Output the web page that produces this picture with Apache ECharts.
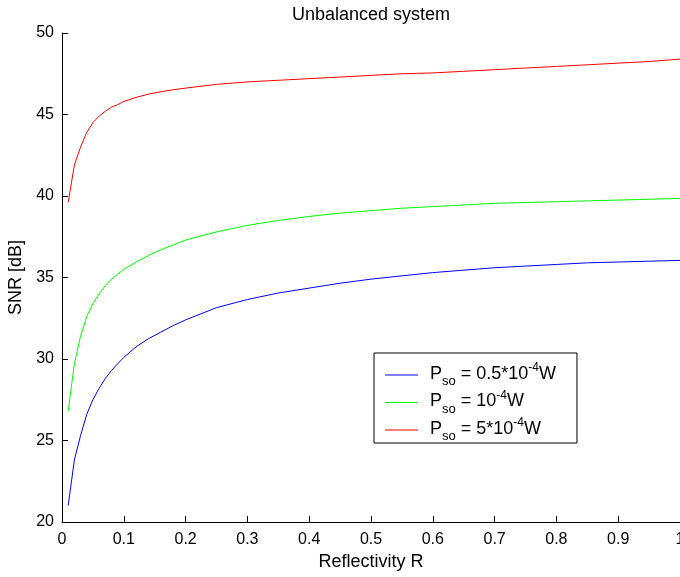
<!DOCTYPE html>
<html>
<head>
<meta charset="utf-8">
<script src="https://cdn.jsdelivr.net/npm/echarts@6/dist/echarts.min.js"></script>
<style>
html, body { margin: 0; padding: 0; background: #fff; }
#chart_container { width: 680px; height: 577px; }
</style>
</head>
<body>
<div id="chart_container"></div>
<script>
// reflectivity samples (x)
const reflectivity = [0.01, 0.02, 0.03, 0.04, 0.05, 0.06, 0.07, 0.08, 0.09, 0.10,
	0.12, 0.14, 0.16, 0.18, 0.20, 0.25, 0.30, 0.35, 0.40, 0.45, 0.50,
	0.55, 0.60, 0.65, 0.70, 0.75, 0.80, 0.85, 0.90, 0.95, 1.00]

// SNR [dB] per Pso
const snrLow = [21.0, 23.8, 25.3, 26.6, 27.5, 28.2, 28.8, 29.3, 29.7, 30.1,
	30.75, 31.25, 31.65, 32.05, 32.4, 33.15, 33.65, 34.05, 34.35, 34.65, 34.9,
	35.1, 35.3, 35.45, 35.6, 35.7, 35.8, 35.9, 35.95, 36.0, 36.05]
const snrMid = [26.8, 29.7, 31.4, 32.6, 33.4, 34.0, 34.5, 34.9, 35.2, 35.5,
	35.95, 36.35, 36.7, 37.0, 37.3, 37.8, 38.2, 38.5, 38.75, 38.95, 39.1,
	39.25, 39.35, 39.45, 39.55, 39.6, 39.65, 39.7, 39.75, 39.8, 39.85]
const snrHigh = [39.6, 41.9, 43.0, 43.9, 44.5, 44.9, 45.2, 45.45, 45.6, 45.8,
	46.05, 46.25, 46.4, 46.52, 46.62, 46.85, 47.0, 47.1, 47.2, 47.3, 47.4,
	47.5, 47.55, 47.65, 47.75, 47.85, 47.95, 48.05, 48.15, 48.25, 48.4]

const seriesNames = ["Pso = 0.5*10^-4W", "Pso = 10^-4W", "Pso = 5*10^-4W"]
const legendLabels = {
	"Pso = 0.5*10^-4W": "{p|P}{sub|so} {n|= 0.5*10}{sup|-4}{n|W}",
	"Pso = 10^-4W": "{p|P}{sub|so} {n|= 10}{sup|-4}{n|W}",
	"Pso = 5*10^-4W": "{p|P}{sub|so} {n|= 5*10}{sup|-4}{n|W}",
}
const colors = ["#0000ff", "#00ff00", "#ff0000"]

const font = "Liberation Sans"

function toPoints(values) {
	return reflectivity.map((r, i) => [r, values[i]])
}

const chart = echarts.init(document.querySelector("#chart_container"))
chart.setOption({
	animation: false,
	textStyle: { fontFamily: font },
	title: {
		text: "Unbalanced system",
		left: 366,
		textAlign: "center",
		top: 1,
		textStyle: { fontFamily: font, fontSize: 18, fontWeight: "normal", color: "#000" },
	},
	grid: {
		left: 62,
		right: 0,
		top: 33,
		bottom: 55,
		containLabel: false,
		outerBoundsMode: "none",
	},
	xAxis: {
		type: "value",
		min: 0,
		max: 1,
		interval: 0.1,
		name: "Reflectivity R",
		nameLocation: "middle",
		nameGap: 31,
		nameTextStyle: { fontFamily: font, fontSize: 18, color: "#000" },
		axisLine: { lineStyle: { color: "#000", width: 1 } },
		axisTick: { inside: true, length: 6, lineStyle: { color: "#000" } },
		axisLabel: {
			margin: 10,
			fontSize: 16,
			color: "#000",
			fontFamily: font,
			formatter: (v) => String(+v.toFixed(1)),
		},
		splitLine: { show: false },
	},
	yAxis: {
		type: "value",
		min: 20,
		max: 50,
		interval: 5,
		name: "SNR [dB]",
		nameLocation: "middle",
		nameGap: 33,
		nameTextStyle: { fontFamily: font, fontSize: 18, color: "#000" },
		axisLine: { show: true, lineStyle: { color: "#000", width: 1 } },
		axisTick: { show: true, inside: true, length: 6, lineStyle: { color: "#000" } },
		axisLabel: { margin: 8, fontSize: 16, color: "#000", fontFamily: font },
		splitLine: { show: false },
	},
	legend: {
		data: seriesNames,
		orient: "vertical",
		left: 374,
		top: 353,
		align: "left",
		icon: "rect",
		itemWidth: 33,
		itemHeight: 1,
		itemGap: 1.5,
		padding: [9, 21, 0, 11],
		backgroundColor: "#fff",
		borderColor: "#000",
		borderWidth: 1,
		borderRadius: 0,
		formatter: (name) => legendLabels[name],
		textStyle: {
			fontFamily: font,
			fontSize: 18,
			lineHeight: 26,
			color: "#000",
			rich: {
				p: { fontFamily: font, fontSize: 18, lineHeight: 13, verticalAlign: "top", padding: [3, 0, 0, 7], color: "#000" },
				n: { fontFamily: font, fontSize: 18, lineHeight: 13, verticalAlign: "top", padding: [3, 0, 0, 0], color: "#000" },
				sub: { fontFamily: font, fontSize: 13, lineHeight: 11, verticalAlign: "bottom", color: "#000" },
				sup: { fontFamily: font, fontSize: 12, lineHeight: 7, verticalAlign: "top", color: "#000" },
			},
		},
	},
	series: [
		{ name: seriesNames[0], type: "line", data: toPoints(snrLow), symbol: "none", color: colors[0], lineStyle: { width: 1 } },
		{ name: seriesNames[1], type: "line", data: toPoints(snrMid), symbol: "none", color: colors[1], lineStyle: { width: 1 } },
		{ name: seriesNames[2], type: "line", data: toPoints(snrHigh), symbol: "none", color: colors[2], lineStyle: { width: 1 } },
	],
})
</script>
</body>
</html>
